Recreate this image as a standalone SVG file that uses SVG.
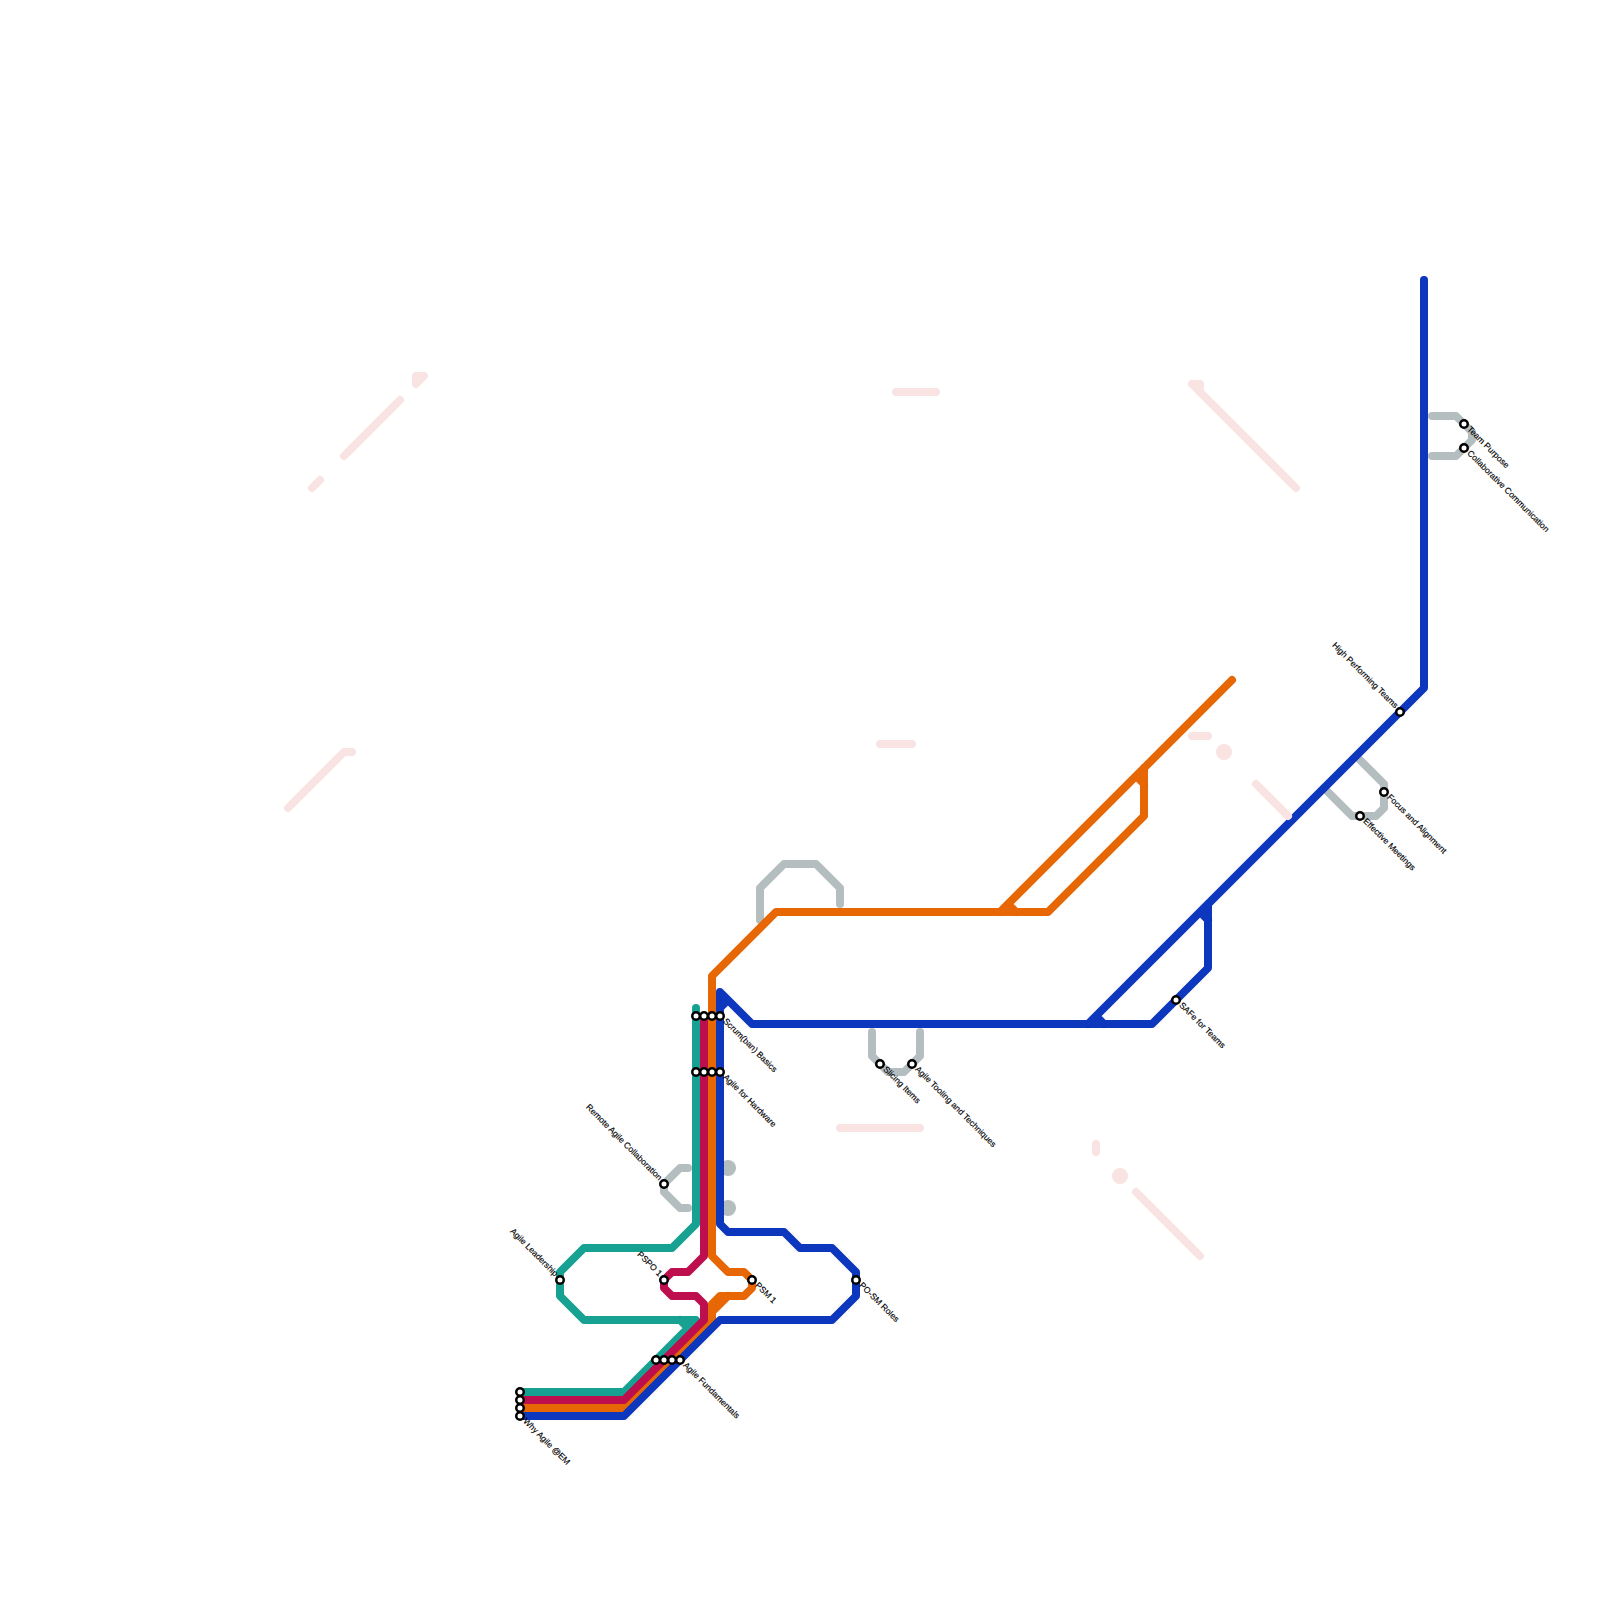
<svg xmlns="http://www.w3.org/2000/svg" width="1600" height="1600" viewBox="0 0 1600 1600">
<style>
.l{fill:none;stroke-width:8;stroke-linecap:round;stroke-linejoin:round}
.t{stroke:#16a192}.c{stroke:#bd0f4d}.o{stroke:#e86705}.b{stroke:#0d38bd}.g{stroke:#b4bdbf}.p{stroke:#fae3e3}
.s{fill:#fff;stroke:#000;stroke-width:2.5;r:3.75px}
text{font-family:"Liberation Sans",Arial,sans-serif;font-size:8.55px;fill:#000;stroke:#000;stroke-width:.15}
.e{text-anchor:end}
</style>
<g id="connectors">
<g id="grey-lines">
<path class="l g" d="M760 920V888L784 864H816L840 888V904M872 1032V1056L888 1072H904L920 1056V1032M688 1168H680L664 1184V1192L680 1208H688M1432 416H1456L1472 432V440L1456 456H1432M1360 760L1384 784V808L1376 816H1352L1328 792"/>
<circle cx="728" cy="1168" r="8" fill="#b4bdbf"/>
<circle cx="728" cy="1208" r="8" fill="#b4bdbf"/>
</g>
<path class="l t" d="M520 1392H624L696 1320H584L560 1296V1272L584 1248H672L696 1224V1008M688 1328L680 1320"/>
<path class="l o" d="M520 1408H624L712 1320V1304L720 1296H744L752 1288V1280L744 1272H728L712 1256V976L776 912H1048L1144 816V768M1000 912L1232 680M712 1312L728 1296M1008 904L1016 912M1136 776L1144 784"/>
<path class="l c" d="M520 1400H624L704 1320V1304L696 1296H672L664 1288V1280L672 1272H688L704 1256V1016"/>
<path class="l b" d="M520 1416H624L720 1320H832L856 1296V1272L832 1248H800L784 1232H728L720 1224V992L752 1024H1152L1208 968V904M1088 1024L1424 688V280M1096 1016L1104 1024M1200 912L1208 920M720 1008L728 1000"/>
<g id="background-lines">
<path class="l p" d="M312 488L320 480M344 456L400 400M416 384V376H424Z"/>
<path class="l p" d="M288 808L344 752H352M896 392H936M880 744H912M840 1128H920M1096 1144V1152M1136 1192L1200 1256M1192 384H1200V392M1192 384L1296 488M1192 736H1208M1256 784L1288 816"/>
<circle cx="1120" cy="1176" r="8" fill="#fae3e3"/>
<circle cx="1224" cy="752" r="8" fill="#fae3e3"/>
</g>
</g>
<g id="why-agile"><circle class="s" cx="520" cy="1392"/><circle class="s" cx="520" cy="1400"/><circle class="s" cx="520" cy="1408"/><circle class="s" cx="520" cy="1416"/><text transform="translate(520 1416) rotate(45)" x="6" y="2">Why Agile @EM</text></g>
<g id="agile-fundamentals"><circle class="s" cx="656" cy="1360"/><circle class="s" cx="664" cy="1360"/><circle class="s" cx="672" cy="1360"/><circle class="s" cx="680" cy="1360"/><text transform="translate(680 1360) rotate(45)" x="6" y="2">Agile Fundamentals</text></g>
<g id="scrum-basics"><circle class="s" cx="696" cy="1016"/><circle class="s" cx="704" cy="1016"/><circle class="s" cx="712" cy="1016"/><circle class="s" cx="720" cy="1016"/><text transform="translate(720 1016) rotate(45)" x="6" y="2">Scrum(ban) Basics</text></g>
<g id="agile-hardware"><circle class="s" cx="696" cy="1072"/><circle class="s" cx="704" cy="1072"/><circle class="s" cx="712" cy="1072"/><circle class="s" cx="720" cy="1072"/><text transform="translate(720 1072) rotate(45)" x="6" y="2">Agile for Hardware</text></g>
<g id="remote-agile"><circle class="s" cx="664" cy="1184"/><text class="e" transform="translate(664 1184) rotate(45)" x="-6" y="1.5">Remote Agile Collaboration</text></g>
<g id="agile-leadership"><circle class="s" cx="560" cy="1280"/><text class="e" transform="translate(560 1280) rotate(45)" x="-6" y="1.5">Agile Leadership</text></g>
<g id="pspo"><circle class="s" cx="664" cy="1280"/><text class="e" transform="translate(664 1280) rotate(45)" x="-6" y="1.5">PSPO 1</text></g>
<g id="psm"><circle class="s" cx="752" cy="1280"/><text transform="translate(752 1280) rotate(45)" x="6" y="2">PSM 1</text></g>
<g id="po-sm"><circle class="s" cx="856" cy="1280"/><text transform="translate(856 1280) rotate(45)" x="6" y="2">PO-SM Roles</text></g>
<g id="slicing"><circle class="s" cx="880" cy="1064"/><text transform="translate(880 1064) rotate(45)" x="6" y="2">Slicing Items</text></g>
<g id="tooling"><circle class="s" cx="912" cy="1064"/><text transform="translate(912 1064) rotate(45)" x="6" y="2">Agile Tooling and Techniques</text></g>
<g id="safe"><circle class="s" cx="1176" cy="1000"/><text transform="translate(1176 1000) rotate(45)" x="6" y="2">SAFe for Teams</text></g>
<g id="high-performing"><circle class="s" cx="1400" cy="712"/><text class="e" transform="translate(1400 712) rotate(45)" x="-6" y="1.5">High Performing Teams</text></g>
<g id="focus"><circle class="s" cx="1384" cy="792"/><text transform="translate(1384 792) rotate(45)" x="6" y="2">Focus and Alignment</text></g>
<g id="effective"><circle class="s" cx="1360" cy="816"/><text transform="translate(1360 816) rotate(45)" x="6" y="2">Effective Meetings</text></g>
<g id="team-purpose"><circle class="s" cx="1464" cy="424"/><text transform="translate(1464 424) rotate(45)" x="6" y="2">Team Purpose</text></g>
<g id="collab"><circle class="s" cx="1464" cy="448"/><text transform="translate(1464 448) rotate(45)" x="6" y="2">Collaborative Communication</text></g>
</svg>
